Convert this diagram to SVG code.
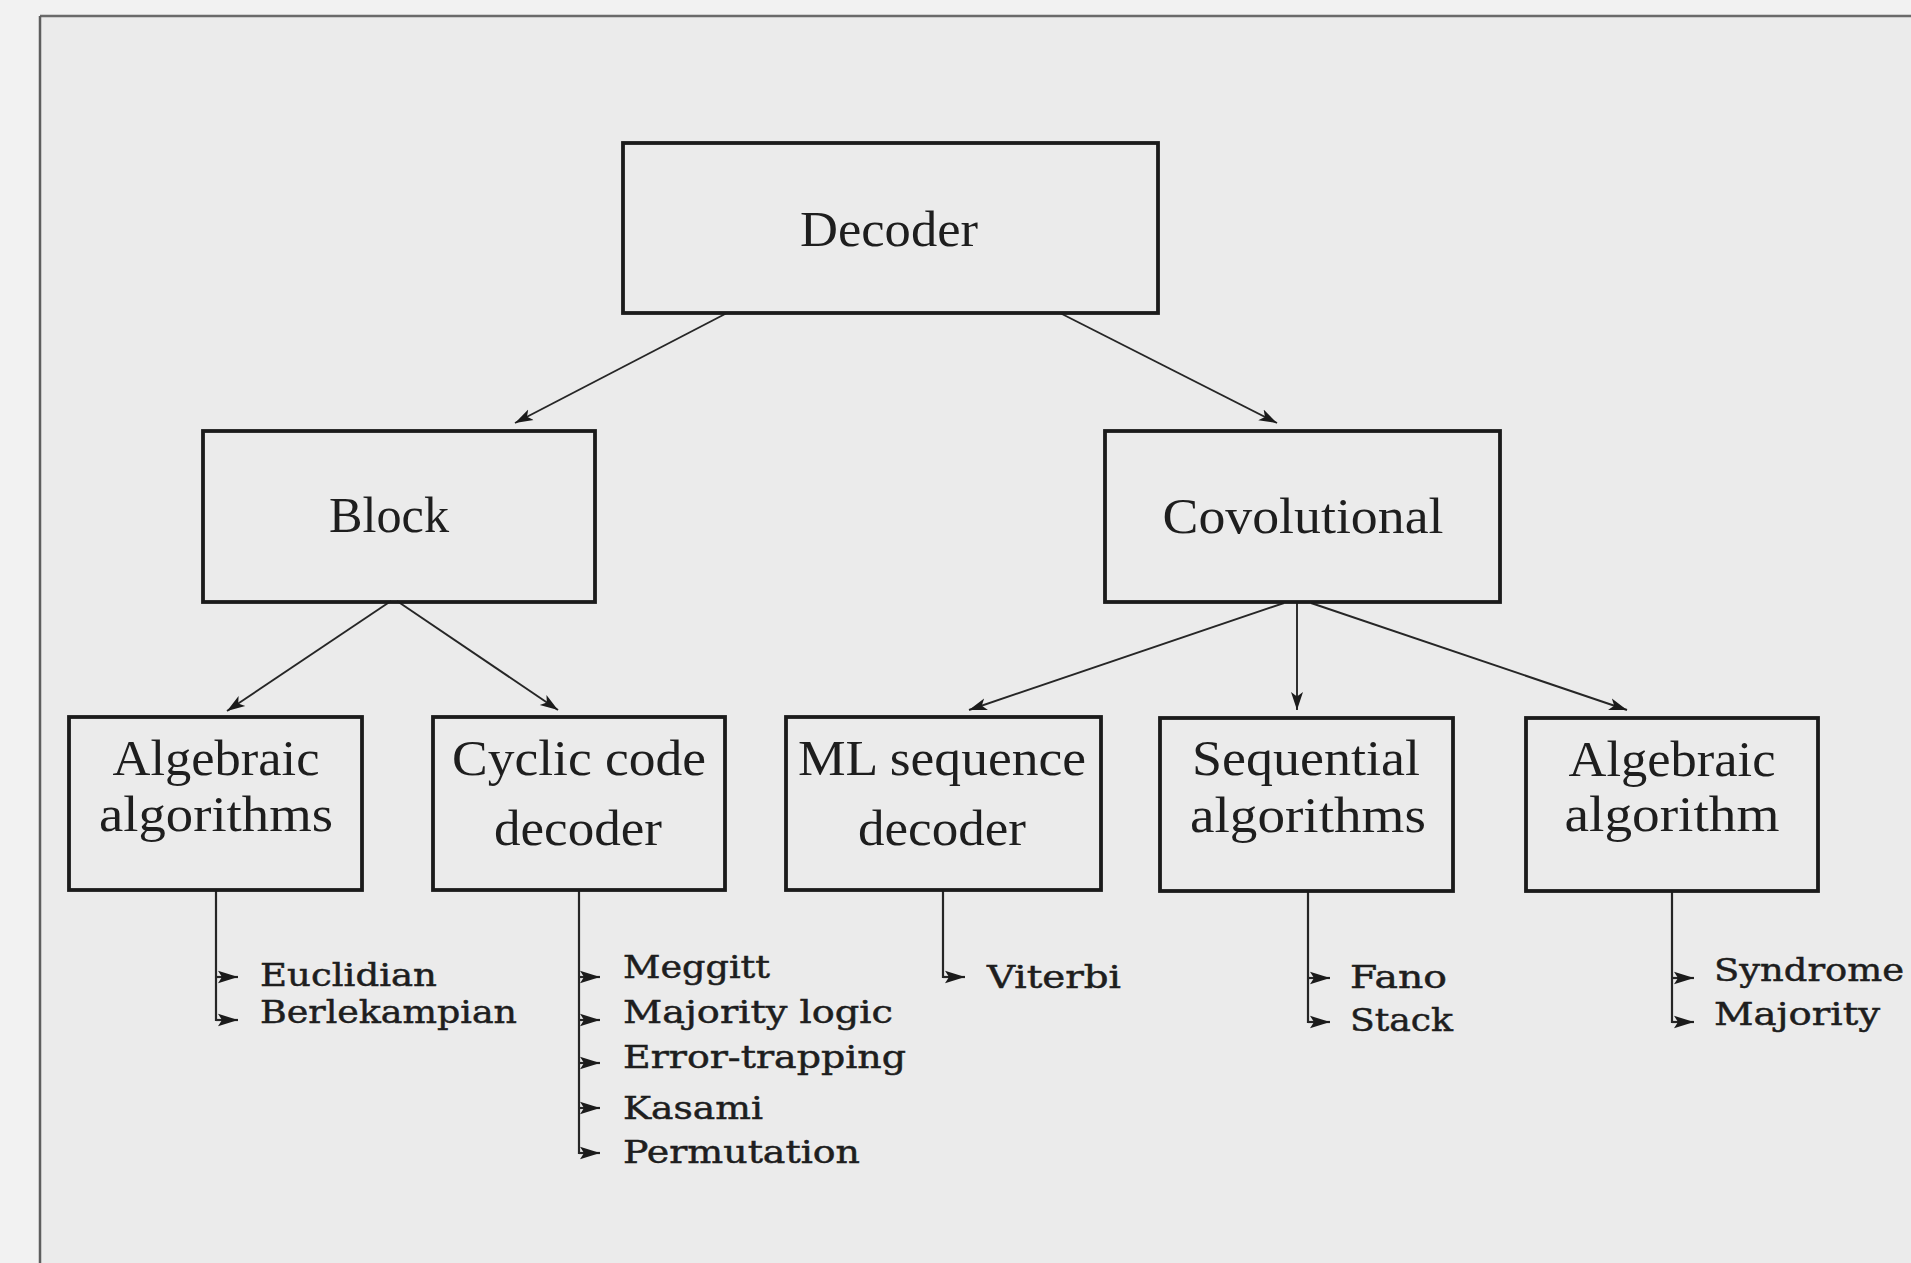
<svg xmlns="http://www.w3.org/2000/svg" width="1911" height="1263" viewBox="0 0 1911 1263">
  <style>
    .box { fill: none; stroke: #1b1b1b; stroke-width: 3.8; }
    .lbl { font-family: "Liberation Serif", "DejaVu Serif", serif; font-size: 50px; fill: #1e1e1e; text-anchor: middle; }
    .item { font-family: "DejaVu Serif", "Liberation Serif", serif; font-size: 32px; fill: #1e1e1e; stroke: #1e1e1e; stroke-width: 0.5; }
    .edge { fill: none; stroke: #262626; stroke-width: 1.9; }
    .tree { fill: none; stroke: #262626; stroke-width: 2.2; }
  </style>
  <defs>
    <marker id="head" markerUnits="userSpaceOnUse" markerWidth="20" markerHeight="14" refX="18" refY="7" orient="auto">
      <path d="M18,7 L0,1 L4.5,7 L0,13 Z" fill="#1b1b1b"/>
    </marker>
    <marker id="tick" markerUnits="userSpaceOnUse" markerWidth="22" markerHeight="14" refX="21" refY="7" orient="auto">
      <path d="M21,7 L1,0.8 L5,7 L1,13.2 Z" fill="#1b1b1b"/>
    </marker>
  </defs>

  <!-- paper -->
  <rect x="0" y="0" width="1911" height="1263" fill="#f2f2f2"/>
  <rect x="40" y="16" width="1871" height="1247" fill="#ebebeb"/>
  <line x1="40" y1="16" x2="1911" y2="16" stroke="#6a6a6a" stroke-width="2.5"/>
  <line x1="40" y1="16" x2="40" y2="1263" stroke="#5e5e5e" stroke-width="2.5"/>

  <!-- connectors -->
  <g id="connectors">
    <line class="edge" x1="727" y1="313" x2="515" y2="423" marker-end="url(#head)"/>
    <line class="edge" x1="1060" y1="313" x2="1277" y2="423" marker-end="url(#head)"/>
    <line class="edge" x1="391" y1="601" x2="227" y2="711" marker-end="url(#head)"/>
    <line class="edge" x1="397" y1="601" x2="558" y2="710" marker-end="url(#head)"/>
    <line class="edge" x1="1284" y1="603" x2="969" y2="710" marker-end="url(#head)"/>
    <line class="edge" x1="1297" y1="603" x2="1297" y2="710" marker-end="url(#head)"/>
    <line class="edge" x1="1311" y1="603" x2="1627" y2="710" marker-end="url(#head)"/>

    <!-- branch lines down to the method lists -->
    <path class="tree" d="M216,890 V1021"/>
    <line class="tree" x1="216" y1="977" x2="238" y2="977" marker-end="url(#tick)"/>
    <line class="tree" x1="216" y1="1020" x2="238" y2="1020" marker-end="url(#tick)"/>

    <path class="tree" d="M579,890 V1154"/>
    <line class="tree" x1="579" y1="977" x2="600" y2="977" marker-end="url(#tick)"/>
    <line class="tree" x1="579" y1="1020" x2="600" y2="1020" marker-end="url(#tick)"/>
    <line class="tree" x1="579" y1="1063" x2="600" y2="1063" marker-end="url(#tick)"/>
    <line class="tree" x1="579" y1="1108" x2="600" y2="1108" marker-end="url(#tick)"/>
    <line class="tree" x1="579" y1="1153" x2="600" y2="1153" marker-end="url(#tick)"/>

    <path class="tree" d="M943,890 V978"/>
    <line class="tree" x1="943" y1="977" x2="965" y2="977" marker-end="url(#tick)"/>

    <path class="tree" d="M1308,890 V1023"/>
    <line class="tree" x1="1308" y1="978" x2="1330" y2="978" marker-end="url(#tick)"/>
    <line class="tree" x1="1308" y1="1022" x2="1330" y2="1022" marker-end="url(#tick)"/>

    <path class="tree" d="M1672,890 V1023"/>
    <line class="tree" x1="1672" y1="978" x2="1694" y2="978" marker-end="url(#tick)"/>
    <line class="tree" x1="1672" y1="1022" x2="1694" y2="1022" marker-end="url(#tick)"/>
  </g>

  <!-- nodes -->
  <g id="decoder">
    <rect class="box" x="623" y="143" width="535" height="170"/>
    <text class="lbl" x="889" y="246" textLength="178" lengthAdjust="spacingAndGlyphs">Decoder</text>
  </g>
  <g id="block">
    <rect class="box" x="203" y="431" width="392" height="171"/>
    <text class="lbl" x="389" y="532" textLength="120" lengthAdjust="spacingAndGlyphs">Block</text>
  </g>
  <g id="convolutional">
    <rect class="box" x="1105" y="431" width="395" height="171"/>
    <text class="lbl" x="1303" y="533" textLength="281" lengthAdjust="spacingAndGlyphs">Covolutional</text>
  </g>

  <g id="algebraic-algorithms">
    <rect class="box" x="69" y="717" width="293" height="173"/>
    <text class="lbl" x="216" y="775" textLength="207" lengthAdjust="spacingAndGlyphs">Algebraic</text>
    <text class="lbl" x="216" y="831" textLength="234" lengthAdjust="spacingAndGlyphs">algorithms</text>
  </g>
  <g id="cyclic-code-decoder">
    <rect class="box" x="433" y="717" width="292" height="173"/>
    <text class="lbl" x="579" y="775" textLength="254" lengthAdjust="spacingAndGlyphs">Cyclic code</text>
    <text class="lbl" x="578" y="845" textLength="168" lengthAdjust="spacingAndGlyphs">decoder</text>
  </g>
  <g id="ml-sequence-decoder">
    <rect class="box" x="786" y="717" width="315" height="173"/>
    <text class="lbl" x="942" y="775" textLength="288" lengthAdjust="spacingAndGlyphs">ML sequence</text>
    <text class="lbl" x="942" y="845" textLength="168" lengthAdjust="spacingAndGlyphs">decoder</text>
  </g>
  <g id="sequential-algorithms">
    <rect class="box" x="1160" y="718" width="293" height="173"/>
    <text class="lbl" x="1306" y="775" textLength="228" lengthAdjust="spacingAndGlyphs">Sequential</text>
    <text class="lbl" x="1308" y="832" textLength="236" lengthAdjust="spacingAndGlyphs">algorithms</text>
  </g>
  <g id="algebraic-algorithm">
    <rect class="box" x="1526" y="718" width="292" height="173"/>
    <text class="lbl" x="1672" y="776" textLength="207" lengthAdjust="spacingAndGlyphs">Algebraic</text>
    <text class="lbl" x="1672" y="831" textLength="215" lengthAdjust="spacingAndGlyphs">algorithm</text>
  </g>

  <!-- method lists -->
  <g id="list-algebraic-algorithms">
    <text class="item" x="260" y="986" textLength="177" lengthAdjust="spacingAndGlyphs">Euclidian</text>
    <text class="item" x="260" y="1023" textLength="257" lengthAdjust="spacingAndGlyphs">Berlekampian</text>
  </g>
  <g id="list-cyclic-code-decoder">
    <text class="item" x="623" y="978" textLength="147" lengthAdjust="spacingAndGlyphs">Meggitt</text>
    <text class="item" x="623" y="1023" textLength="270" lengthAdjust="spacingAndGlyphs">Majority logic</text>
    <text class="item" x="623" y="1068" textLength="283" lengthAdjust="spacingAndGlyphs">Error-trapping</text>
    <text class="item" x="623" y="1119" textLength="140" lengthAdjust="spacingAndGlyphs">Kasami</text>
    <text class="item" x="623" y="1163" textLength="237" lengthAdjust="spacingAndGlyphs">Permutation</text>
  </g>
  <g id="list-ml-sequence-decoder">
    <text class="item" x="987" y="988" textLength="134" lengthAdjust="spacingAndGlyphs">Viterbi</text>
  </g>
  <g id="list-sequential-algorithms">
    <text class="item" x="1350" y="988" textLength="97" lengthAdjust="spacingAndGlyphs">Fano</text>
    <text class="item" x="1350" y="1031" textLength="103" lengthAdjust="spacingAndGlyphs">Stack</text>
  </g>
  <g id="list-algebraic-algorithm">
    <text class="item" x="1714" y="981" textLength="190" lengthAdjust="spacingAndGlyphs">Syndrome</text>
    <text class="item" x="1714" y="1025" textLength="166" lengthAdjust="spacingAndGlyphs">Majority</text>
  </g>
</svg>
